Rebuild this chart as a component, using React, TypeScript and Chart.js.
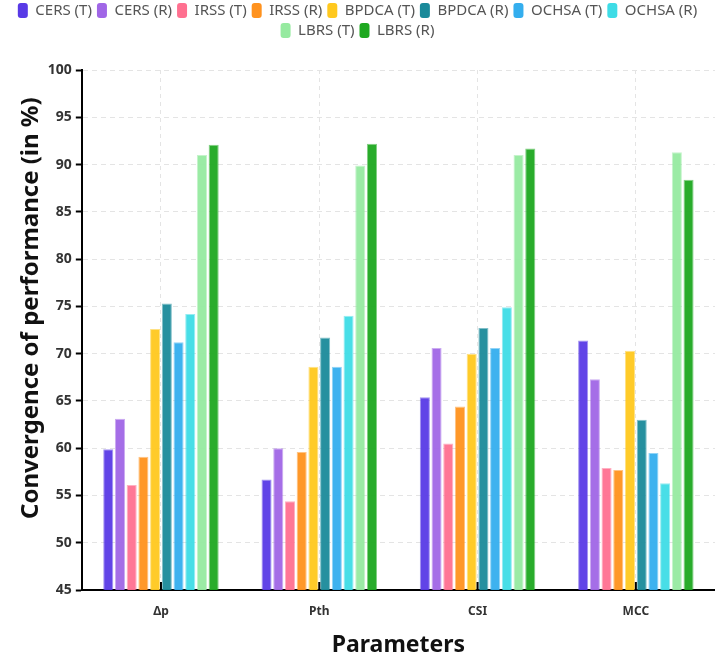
import React, { useEffect, useRef } from "react";
import { Chart, registerables } from "chart.js";

Chart.register(...registerables);

const categories = ["Δp", "Pth", "CSI", "MCC"];

const seriesNames = [
  "CERS (T)", "CERS (R)", "IRSS (T)", "IRSS (R)", "BPDCA (T)",
  "BPDCA (R)", "OCHSA (T)", "OCHSA (R)", "LBRS (T)", "LBRS (R)",
];

const cersT = [59.9, 56.7, 65.4, 71.4];
const cersR = [63.1, 60.0, 70.6, 67.3];
const irssT = [56.1, 54.4, 60.5, 57.9];
const irssR = [59.1, 59.6, 64.4, 57.7];
const bpdcaT = [72.6, 68.6, 70.0, 70.3];
const bpdcaR = [75.3, 71.7, 72.7, 63.0];
const ochsaT = [71.2, 68.6, 70.6, 59.5];
const ochsaR = [74.2, 74.0, 74.9, 56.3];
const lbrsT = [91.0, 89.9, 91.0, 91.3];
const lbrsR = [92.1, 92.2, 91.7, 88.4];

const seriesValues = [cersT, cersR, irssT, irssR, bpdcaT, bpdcaR, ochsaT, ochsaR, lbrsT, lbrsR];

const seriesColors = [
  [88, 58, 230], [160, 102, 230], [255, 112, 144], [255, 146, 30], [255, 200, 30],
  [26, 138, 154], [52, 174, 238], [62, 220, 230], [150, 234, 160], [30, 168, 32],
];

const yMin = 45;
const yMax = 100;
const yStep = 5;

const xTitle = "Parameters";
const yTitle = "Convergence of performance (in %)";

const FONT = "'Noto Sans', sans-serif";

// Short black tick marks drawn upward from the x axis at each category centre
const innerTicks = {
  id: "innerTicks",
  afterDatasetsDraw(chart: any) {
    const x = chart.scales.x;
    const { ctx, chartArea } = chart;
    ctx.save();
    ctx.strokeStyle = "#000";
    ctx.lineWidth = 2;
    for (let i = 0; i < x.ticks.length; i++) {
      const px = x.getPixelForTick(i);
      ctx.beginPath();
      ctx.moveTo(px, chartArea.bottom);
      ctx.lineTo(px, chartArea.bottom - 8);
      ctx.stroke();
    }
    ctx.restore();
  },
};

// Extra space between the legend and the plot
const legendGap = {
  id: "legendGap",
  beforeInit(chart: any) {
    const legend = chart.legend;
    if (!legend) return;
    const fit = legend.fit;
    legend.fit = function () {
      fit.call(this);
      this.height += 22;
    };
  },
};

export default function App() {
  const ref = useRef<HTMLCanvasElement | null>(null);

  useEffect(() => {
    if (!ref.current) return;
    const chart = new Chart(ref.current, {
      type: "bar",
      data: {
        labels: categories,
        datasets: seriesNames.map((name, i) => {
          const [r, g, b] = seriesColors[i];
          return {
            label: name,
            data: seriesValues[i],
            backgroundColor: `rgba(${r},${g},${b},0.95)`,
            borderColor: `rgba(${r},${g},${b},0.55)`,
            borderWidth: 1,
            categoryPercentage: 0.74,
            barPercentage: 0.86,
          };
        }),
      },
      options: {
        animation: false,
        responsive: true,
        maintainAspectRatio: false,
        layout: { padding: { left: 0, right: 0, top: -2, bottom: 0 } },
        plugins: {
          legend: {
            position: "top",
            labels: {
              color: "#555",
              font: { family: FONT, size: 15 },
              boxWidth: 10,
              boxHeight: 15,
              useBorderRadius: true,
              borderRadius: 3,
              padding: 5,
              generateLabels: (c: any) =>
                c.data.datasets.map((ds: any, i: number) => {
                  const [r, g, b] = seriesColors[i];
                  return {
                    text: ds.label,
                    fillStyle: `rgb(${r},${g},${b})`,
                    strokeStyle: `rgb(${r},${g},${b})`,
                    lineWidth: 0,
                    fontColor: "#555",
                    borderRadius: 3,
                    datasetIndex: i,
                    hidden: false,
                  };
                }),
            },
          },
          tooltip: { enabled: false },
        },
        scales: {
          x: {
            grid: {
              display: true,
              offset: false,
              color: "#e4e4e4",
              drawTicks: false,
            },
            border: { display: true, color: "#000", width: 2, dash: [4, 4] },
            ticks: {
              color: "#333",
              font: { family: FONT, size: 12, weight: "bold" },
              padding: 14,
            },
            title: {
              display: true,
              text: xTitle,
              color: "#111",
              font: { family: FONT, size: 23, weight: "bold" },
              padding: { top: -1, bottom: -3 },
            },
          },
          y: {
            min: yMin,
            max: yMax,
            grid: {
              color: "#e4e4e4",
              tickColor: "#000",
              tickLength: 6,
              tickWidth: 2,
              tickBorderDash: [],
            },
            border: { display: true, color: "#000", width: 2, dash: [5, 4] },
            ticks: {
              stepSize: yStep,
              color: "#333",
              font: { family: FONT, size: 14, weight: "bold" },
              padding: 4,
            },
            title: {
              display: true,
              // leading spaces lift the rotated title a little above the axis centre
              text: "       " + yTitle,
              color: "#111",
              font: { family: FONT, size: 24, weight: "bold" },
              padding: { top: 17, bottom: -2 },
            },
          },
        },
      },
      plugins: [innerTicks, legendGap],
    });
    return () => chart.destroy();
  }, []);

  return (
    <div style={{ position: "fixed", left: 0, top: 0, width: 715, height: 656, background: "#fff" }}>
      <canvas ref={ref} />
    </div>
  );
}
